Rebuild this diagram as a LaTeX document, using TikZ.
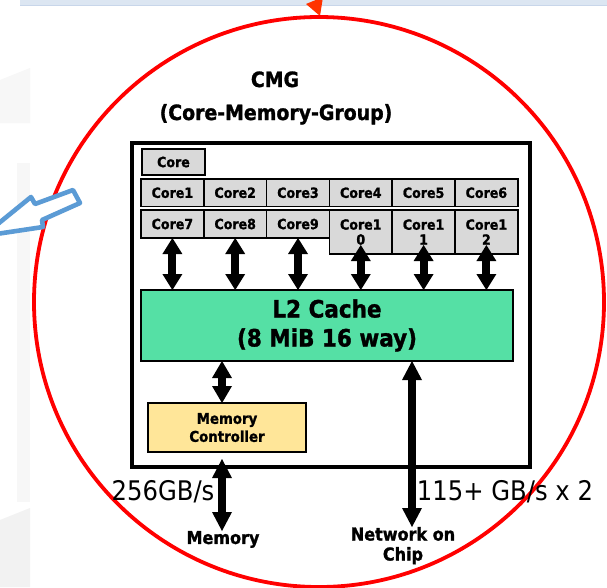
\documentclass[tikz,border=0pt]{standalone}
\usepackage{fontspec}
\setmainfont{DejaVu Sans}[FakeStretch=0.9, BoldFeatures={FakeBold=1.3}]
\usetikzlibrary{arrows.meta}

\definecolor{cellgray}{HTML}{D9D9D9}
\definecolor{cachegreen}{HTML}{55E0A5}
\definecolor{mcyellow}{HTML}{FFE699}
\definecolor{calloutblue}{HTML}{5B9BD5}
\definecolor{bandblue}{HTML}{DCE6F2}
\definecolor{bandedge}{HTML}{C8D6EA}
\definecolor{pointerred}{HTML}{FF3300}
\definecolor{ghost}{HTML}{F7F7F7}
\definecolor{ghostdark}{HTML}{F2F2F2}

\tikzset{
  every node/.style={outer sep=0pt},
  cell/.style={draw=black, line width=1.6pt, fill=cellgray, inner sep=0pt,
    anchor=north west, minimum width=62.8pt, minimum height=27.5pt, align=center,
    font=\fontsize{14pt}{15pt}\selectfont\bfseries},
  block/.style={draw=black, line width=1.8pt, inner sep=0pt, anchor=north west, align=center},
  lbl/.style={inner sep=0pt, align=center, font=\fontsize{17.8pt}{20pt}\selectfont\bfseries},
  rate/.style={inner sep=0pt, font=\fontsize{27pt}{30pt}\selectfont},
  headline/.style={inner sep=0pt, anchor=base, font=\fontsize{21pt}{24pt}\selectfont\bfseries},
  dbl/.style={line width=8pt,
    {Triangle[width=20pt,length=#1,line width=0pt]}-{Triangle[width=20pt,length=#1,line width=0pt]}},
  dbl/.default=16pt,
}

\begin{document}
\begin{tikzpicture}[x=1pt,y=-1pt]
\useasboundingbox (0,0) rectangle (607,587);
\clip (0,0) rectangle (607,587);
\fill[white] (0,0) rectangle (607,587);

% faint shapes of the slide behind
\fill[ghost] (0,80) -- (30,68) -- (30,123) -- (0,123) -- cycle;
\fill[ghost] (17,163) rectangle (30,502);
\fill[ghostdark] (0,520) -- (30,508) -- (30,587) -- (0,587) -- cycle;

% band at the top with the red pointer
\fill[bandblue] (20,-5) rectangle (607,5);
\draw[bandedge, line width=0.8pt] (20,5) -- (607,5);
\fill[pointerred] (306,4) -- (323,-3) -- (320,16) -- cycle;

% red zoom circle
\draw[red, line width=3.8pt] (319,302) circle[radius=285];

% blue callout arrow
\draw[calloutblue, line width=4.6pt, line join=round, fill=white]
  (-17,236) -- (31,197) -- (35,204) -- (73,190) -- (80,203) -- (42,220) -- (43,227) -- cycle;

% title
\node[headline] (title) at (275,87) {CMG};
\node[headline] (subtitle) at (276,120) {(Core-Memory-Group)};

% CMG frame
\node[draw=black, line width=4pt, inner sep=0pt, anchor=north west,
  minimum width=398pt, minimum height=324pt] (cmg) at (132,143) {};

% cores
\node[cell, minimum width=63pt, minimum height=26pt] (c0) at (142,149) {Core};
\foreach \i in {1,...,6}
  \node[cell] (c\i) at ({141+62.8*(\i-1)},179) {Core\i};
\foreach \i in {7,8,9}
  \node[cell, minimum height=28pt] (c\i) at ({141+62.8*(\i-7)},210) {Core\i};
\foreach \i/\d in {10/0,11/1,12/2}
  \node[cell, minimum height=44pt] (c\i) at ({141+62.8*(\i-7)},210) {Core1\\\d};

% L2 cache and memory controller
\node[block, fill=cachegreen, minimum width=372pt, minimum height=71pt,
  font=\fontsize{23.9pt}{29pt}\selectfont\bfseries] (l2) at (141,290) {L2 Cache\\(8 MiB 16 way)};
\node[block, fill=mcyellow, minimum width=158pt, minimum height=49pt,
  font=\fontsize{14.8pt}{18pt}\selectfont\bfseries] (mc) at (148,403) {Memory\\Controller};

% external endpoints
\node[lbl, anchor=north] (memlbl) at (223,531) {Memory};
\node[lbl, anchor=north] (noc) at (403,527) {Network on\\Chip};

% bandwidth labels
\node[rate, anchor=base] (bwmem) at (163,500) {256GB/s};
\node[rate, anchor=base] (bwnet) at (505,500) {115+ GB/s x 2};

% connectors
\coordinate (memx) at (222,0);
\coordinate (netx) at (412,0);
\coordinate (memtop) at ([yshift=-7pt]mc.south);

\foreach \i in {7,8,9}
  \draw[dbl] (c\i.south) -- (c\i.south |- l2.north);
\foreach \i in {10,11,12}
  \draw[dbl] ([yshift=9pt]c\i.south) -- (c\i.south |- l2.north);
\draw[dbl=17pt] (l2.south -| memx) -- (mc.north -| memx);
\draw[dbl=19pt] (memtop -| memx) -- (memlbl.north -| memx);
\draw[dbl=19pt] (l2.south -| netx) -- (noc.north -| netx);
\end{tikzpicture}
\end{document}
